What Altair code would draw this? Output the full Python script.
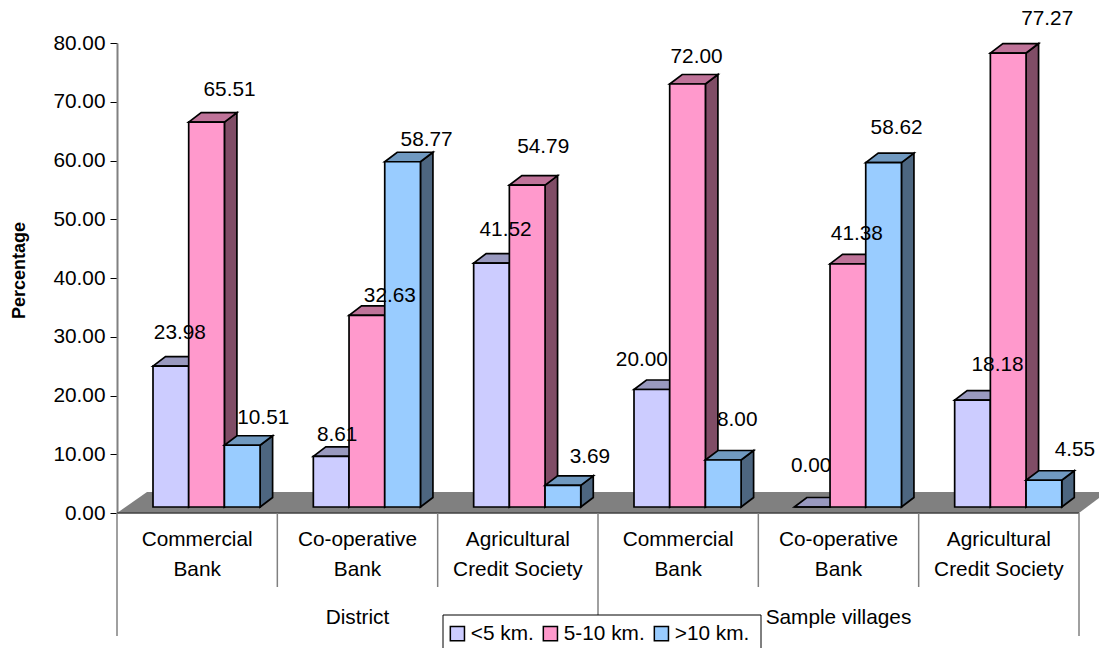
import altair as alt
import pandas as pd

groups = ["Commercial\nBank", "Co-operative\nBank", "Agricultural\nCredit Society"] * 2
parents = ["District", "Sample villages"]
series = ["<5 km.", "5-10 km.", ">10 km."]
near = [23.98, 8.61, 41.52, 20.00, 0.00, 18.18]
mid = [65.51, 32.63, 54.79, 72.00, 41.38, 77.27]
far = [10.51, 58.77, 3.69, 8.00, 58.62, 4.55]
front_colors = ["#CCCCFF", "#FF99CC", "#99CCFF"]
top_colors = ["#9999BF", "#BF7399", "#7099C0"]
side_colors = ["#666680", "#804D66", "#4D6680"]
# hand-placed label nudges, in pixels from the top centre of each bar
nudge_x = [[9, 6, 14, -10, -1, 25], [23, 23, 16, 9, 9, 39], [21, 24, 27, 14, 13, 31]]
nudge_y = [[-33, -21, -33, -30, -41, -35], [-32, -19, -38, -27, -30, -34], [-27, -22, -28, -40, -35, -30]]
# labels the next bar in front partly hides: (series, group)
behind = [(0, 3), (0, 4)]

PXX = 962 / 6
PXY = 470 / 80
START = 36 / PXX
W = 35.7 / PXX
DX = 12.5 / PXX
DY = 9.5 / PXY
LIFT = 6 / PXY
LW = 1.7

xs = alt.Scale(domain=[0, 6], range=[109, 1071])
ys = alt.Scale(domain=[0, 80], range=[505, 35])
FONT = "Liberation Sans"
FS = 20.8

xe = alt.X("x:Q", scale=xs, axis=None)
ye = alt.Y("y:Q", scale=ys, axis=alt.Axis(
    values=[0, 10, 20, 30, 40, 50, 60, 70, 80], format=".2f", offset=-109, orient="left",
    title="Percentage", titleFont=FONT, titleFontSize=18, titleFontWeight="bold", titleColor="black",
    titleX=-89, titleY=262, titleAnchor="middle",
    labelFont=FONT, labelFontSize=FS, labelColor="black", labelPadding=5,
    tickColor="black", tickSize=7, tickWidth=1, domainColor="#808080", domainWidth=2, grid=False))

floor = pd.DataFrame({
    "x": [0, 30 / PXX, 6, 6 + 28 / PXX],
    "y": [0, 0, 0, 21 / PXY],
    "y2": [0, 21 / PXY, 21 / PXY, 21 / PXY],
})


def label_layer(rows):
    return alt.Chart(pd.DataFrame(rows)).mark_text(
        font=FONT, fontSize=FS, color="black", baseline="middle", align="center"
    ).encode(x=xe, y=ye, text="t:N")


layers = [
    alt.Chart(floor).mark_area(color="#808080", line=False).encode(x=xe, y=ye, y2="y2:Q")
]
label_rows = []
for s, (name, values) in enumerate(zip(series, [near, mid, far])):
    fronts, tops, sides, under = [], [], [], []
    for g, v in enumerate(values):
        x0 = g + START + s * W
        x1 = x0 + W
        t = v + LIFT
        key = f"{g}-{s}"
        fronts.append({"x": x0, "x2": x1, "y": t, "y2": LIFT, "series": name})
        sides += [
            {"x": x1, "y": LIFT, "y2": t, "k": key},
            {"x": x1 + DX, "y": LIFT + DY, "y2": t + DY, "k": key},
        ]
        tops += [
            {"x": x0, "y": t, "y2": t, "k": key},
            {"x": x0 + DX, "y": t, "y2": t + DY, "k": key},
            {"x": x1, "y": t, "y2": t + DY, "k": key},
            {"x": x1 + DX, "y": t + DY, "y2": t + DY, "k": key},
        ]
        row = {
            "x": (x0 + x1) / 2 + nudge_x[s][g] / PXX,
            "y": t - nudge_y[s][g] / PXY,
            "t": f"{v:.2f}",
        }
        (under if (s, g) in behind else label_rows).append(row)
    layers.append(alt.Chart(pd.DataFrame(sides)).mark_area(
        color=side_colors[s], stroke="black", strokeWidth=LW, line=False
    ).encode(x=xe, y=ye, y2="y2:Q", detail="k:N"))
    layers.append(alt.Chart(pd.DataFrame(tops)).mark_area(
        color=top_colors[s], stroke="black", strokeWidth=LW, line=False
    ).encode(x=xe, y=ye, y2="y2:Q", detail="k:N"))
    layers.append(alt.Chart(pd.DataFrame(fronts)).mark_rect(
        stroke="black", strokeWidth=LW
    ).encode(
        x=xe, x2="x2:Q", y=ye, y2="y2:Q",
        color=alt.Color("series:N", scale=alt.Scale(domain=series, range=front_colors), legend=alt.Legend(
            orient="none", legendX=439, legendY=615, direction="horizontal", columns=3, title=None,
            symbolType="square", symbolSize=200, symbolStrokeColor="black", symbolStrokeWidth=1.5,
            labelFont=FONT, labelFontSize=FS, labelColor="black", labelOffset=3, columnPadding=6,
            padding=0, symbolOpacity=1)),
    ))
    if under:
        layers.append(label_layer(under))

labels = label_layer(label_rows)

# multi-level category axis
axis_line = alt.Chart(pd.DataFrame({"x": [0], "x2": [6]})).mark_rule(color="#404040", strokeWidth=1.5).encode(
    x=xe, x2="x2:Q", y=alt.value(505))
short_ticks = alt.Chart(pd.DataFrame({"x": [1, 2, 4, 5]})).mark_rule(color="#808080", strokeWidth=1.5).encode(
    x=xe, y=alt.value(505), y2=alt.value(579))
long_ticks = alt.Chart(pd.DataFrame({"x": [0, 3, 6]})).mark_rule(color="#808080", strokeWidth=1.5).encode(
    x=xe, y=alt.value(505), y2=alt.value(628))
cat_rows = []
for i, g in enumerate(groups):
    for j, line in enumerate(g.split("\n")):
        cat_rows.append({"x": i + 0.5, "row": j, "t": line})
cat_df = pd.DataFrame(cat_rows)
cat1 = alt.Chart(cat_df[cat_df.row == 0]).mark_text(font=FONT, fontSize=FS, color="black", baseline="middle").encode(
    x=xe, y=alt.value(532), text="t:N")
cat2 = alt.Chart(cat_df[cat_df.row == 1]).mark_text(font=FONT, fontSize=FS, color="black", baseline="middle").encode(
    x=xe, y=alt.value(562), text="t:N")
parent_text = alt.Chart(pd.DataFrame({"x": [1.5, 4.5], "t": parents})).mark_text(
    font=FONT, fontSize=FS, color="black", baseline="middle").encode(x=xe, y=alt.value(610), text="t:N")
legend_box = alt.Chart(pd.DataFrame({"a": [0]})).mark_rect(fill="white", stroke="black", strokeWidth=1).encode(
    x=alt.value(435), x2=alt.value(753), y=alt.value(607), y2=alt.value(680))

chart = alt.layer(
    *layers, labels, axis_line, short_ticks, long_ticks, cat1, cat2, parent_text, legend_box
).properties(
    width=1091, height=640, padding=0, background="white", autosize=alt.AutoSizeParams(type="none")
).configure_view(stroke=None)

chart.save("out.html", embed_options={"renderer": "svg", "actions": False})
